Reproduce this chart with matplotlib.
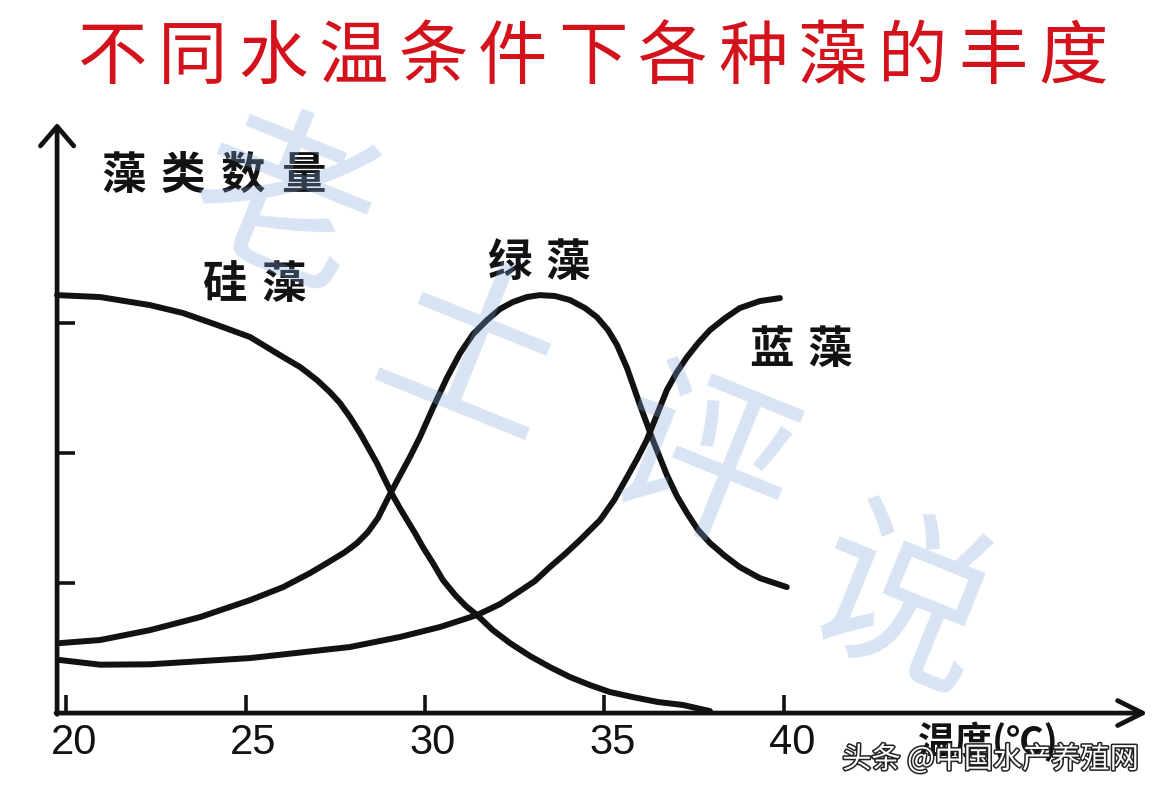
import numpy as np
import matplotlib.pyplot as plt
from matplotlib import patheffects as pe
from matplotlib.transforms import ScaledTranslation

plt.rcParams['font.family'] = ['Noto Sans CJK SC', 'DejaVu Sans']

# readings: water temperature (C) vs. relative algae count
diatom_t = [19.75, 20.95, 22.34, 23.26, 24.21, 25.13, 26.05, 26.52, 26.99, 27.35, 27.63,
            27.91, 28.19, 28.41, 28.66, 28.86, 29.08, 29.30, 29.50, 29.72, 29.94, 30.22,
            30.50, 30.84, 31.14, 31.45, 31.89, 32.37, 32.93, 33.48, 34.04, 34.60, 35.15,
            35.79, 36.49, 37.19, 37.94]
diatom_n = [3.215, 3.200, 3.138, 3.077, 2.985, 2.892, 2.738, 2.662, 2.562, 2.469, 2.385,
            2.277, 2.154, 2.046, 1.923, 1.808, 1.685, 1.577, 1.485, 1.385, 1.277, 1.154,
            1.023, 0.908, 0.823, 0.754, 0.638, 0.538, 0.438, 0.354, 0.277, 0.215, 0.162,
            0.123, 0.085, 0.062, 0.015]

green_t = [19.83, 20.95, 22.34, 23.73, 25.13, 26.05, 26.80, 27.27, 27.77, 28.11, 28.41,
           28.69, 28.97, 29.25, 29.58, 29.86, 30.22, 30.61, 30.98, 31.34, 31.73, 32.09,
           32.45, 32.84, 33.20, 33.62, 34.04, 34.46, 34.79, 35.10, 35.35, 35.63, 35.99,
           36.35, 36.74, 37.02, 37.30, 37.61, 37.94, 38.36, 38.77, 39.33, 40.08]
green_n = [0.538, 0.562, 0.638, 0.738, 0.869, 0.969, 1.077, 1.154, 1.238, 1.308, 1.392,
           1.500, 1.654, 1.800, 1.969, 2.123, 2.346, 2.577, 2.769, 2.915, 3.023, 3.108,
           3.162, 3.200, 3.215, 3.208, 3.177, 3.115, 3.046, 2.946, 2.831, 2.654, 2.369,
           2.100, 1.831, 1.669, 1.538, 1.408, 1.308, 1.208, 1.123, 1.038, 0.969]

blue_t = [19.83, 20.95, 22.34, 25.13, 27.91, 29.30, 30.42, 31.45, 32.09, 32.56, 33.06,
          33.48, 33.90, 34.32, 34.88, 35.27, 35.63, 35.91, 36.18, 36.46, 36.74, 37.02,
          37.30, 37.61, 37.94, 38.36, 38.77, 39.33, 39.89]
blue_n = [0.408, 0.372, 0.375, 0.423, 0.508, 0.585, 0.662, 0.754, 0.838, 0.923, 1.015,
          1.123, 1.223, 1.331, 1.485, 1.638, 1.815, 1.954, 2.100, 2.292, 2.485, 2.623,
          2.738, 2.846, 2.946, 3.038, 3.115, 3.169, 3.192]

x_ticks = [20, 25, 30, 35, 40]
x_tick_labels = ['20', '25', '30', '35', '40']
y_ticks = [1, 2, 3]

title = '不同水温条件下各种藻的丰度'
y_title = '藻类数量'
x_title = '温度(℃)'
curve_names = ['硅藻', '绿藻', '蓝藻']
mark = '老土评说'
source = '头条 @中国水产养殖网'

x0 = 19.75   # where the axes cross
ink = '#121212'

fig = plt.figure(figsize=(11.64, 7.96), dpi=100)
ax = fig.add_axes([0, 0, 1, 1])
ax.set_xlim(18.16, 50.59)
ax.set_ylim(-0.638, 5.485)

for t, n in [(diatom_t, diatom_n), (green_t, green_n), (blue_t, blue_n)]:
    ax.plot(t, n, color=ink, lw=4.3, solid_capstyle='round', solid_joinstyle='round', zorder=3)

# axes with arrow heads
for s in ax.spines.values():
    s.set_visible(False)
ax.spines['left'].set_position(('data', x0))
ax.spines['bottom'].set_position(('data', 0))
ax.annotate('', xy=(x0, 4.54), xytext=(x0, -0.01),
            arrowprops=dict(arrowstyle='->,head_length=0.7,head_width=0.6', lw=3.4,
                            color=ink, shrinkA=0, shrinkB=0, mutation_scale=20))
ax.annotate('', xy=(50.14, 0), xytext=(x0 - 0.03, 0),
            arrowprops=dict(arrowstyle='->,head_length=0.9,head_width=0.45', lw=3.4,
                            color=ink, shrinkA=0, shrinkB=0, mutation_scale=20))

ax.set_xticks(x_ticks)
ax.set_xticklabels(x_tick_labels)
ax.set_yticks(y_ticks)
ax.set_yticklabels([])
ax.tick_params(axis='x', direction='in', length=13, width=2.6, color=ink, pad=7,
               labelsize=30, labelcolor=ink)
ax.tick_params(axis='y', direction='in', length=13, width=2.6, color=ink)
shift = ScaledTranslation(8 / 100, 0, fig.dpi_scale_trans)
for lbl in ax.get_xticklabels():
    lbl.set_fontfamily('Liberation Sans')
    lbl.set_transform(lbl.get_transform() + shift)


def spaced(x, y, s, pitch, coords='data', **kw):
    n = len(s)
    for i, ch in enumerate(s):
        ax.annotate(ch, xy=(x, y), xycoords=coords,
                    xytext=((i - (n - 1) / 2) * pitch, 0), textcoords='offset pixels',
                    ha='center', va='center', **kw)


spaced(593, 738, title, 80, coords='figure pixels', fontsize=50, color='#d4121c')

spaced(24.10, 4.13, y_title, 60, fontsize=32, fontweight='bold', color=ink, zorder=4)
spaced(25.24, 3.29, curve_names[0], 58, fontsize=32, fontweight='bold', color=ink, zorder=4)
spaced(33.15, 3.46, curve_names[1], 58, fontsize=32, fontweight='bold', color=ink, zorder=4)
spaced(40.47, 2.79, curve_names[2], 58, fontsize=32, fontweight='bold', color=ink, zorder=4)
ax.text(45.70, -0.225, x_title, fontsize=27, fontweight='bold', color=ink,
        ha='center', va='center', zorder=4)

# watermark characters running down the chart
mark_pos = [(25.96, 3.87), (31.26, 2.72), (37.66, 1.87), (43.20, 0.79)]
for ch, (mx, my) in zip(mark, mark_pos):
    ax.text(mx, my, ch, fontsize=130, rotation=-22, ha='center', va='center',
            color='#7fa6dc', alpha=0.3, zorder=5)

ax.text(45.75, -0.36, source, fontsize=21, ha='center', va='center', color='white',
        zorder=6, path_effects=[pe.withStroke(linewidth=2.2, foreground='#222222')])

fig.savefig('out.png', dpi=100, facecolor='white')
